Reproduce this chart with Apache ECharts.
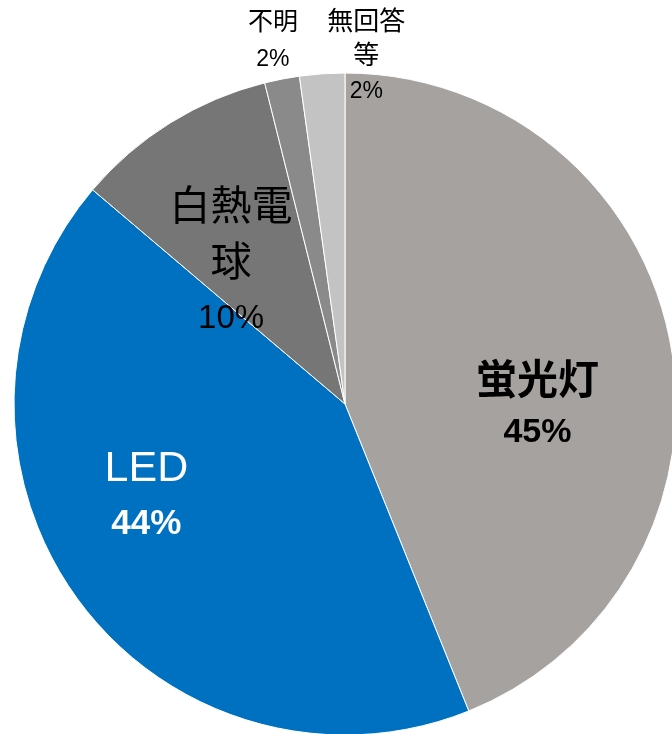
<!DOCTYPE html>
<html><head><meta charset="utf-8">
<script src="https://cdn.jsdelivr.net/npm/echarts@6/dist/echarts.min.js"></script>
<style>html,body{margin:0;padding:0;background:#fff}#c{width:672px;height:734px}</style>
</head><body><div id="c"></div>
<script>
// Data
const categories = ['蛍光灯', 'LED', '白熱電球', '不明', '無回答等'];
const shares = [43.9, 42.3, 9.9, 1.7, 2.2];
const pctLabels = ['45%', '44%', '10%', '2%', '2%'];
const nameLines = ['蛍光灯', 'LED', '白熱電\n球', '不明', '無回答\n等'];

// Styles
const colors = ['#a6a2a0', '#0070c0', '#767676', '#8a8a8a', '#c3c3c3'];
const numFont = "'Liberation Sans Narrow','Arial Narrow','Liberation Sans',sans-serif";
const cjkFont = "'Liberation Sans','Noto Sans CJK JP',sans-serif";
const labelOffsets = [[27, 36], [-62, -6], [-25, 2], [-40, -197], [33, -178]];

const labelStyles = [
  {name: {fontSize: 41, fontWeight: 'bold', color: '#000', lineHeight: 50}, pct: {fontSize: 34, fontWeight: 'bold', color: '#000', lineHeight: 50}},
  {name: {fontSize: 43, fontWeight: 'normal', color: '#fff', lineHeight: 55}, pct: {fontSize: 35, fontWeight: 'bold', color: '#fff', lineHeight: 55}},
  {name: {fontSize: 41, fontWeight: 'normal', color: '#000', lineHeight: 56}, pct: {fontSize: 33, fontWeight: 'normal', color: '#000', lineHeight: 52}},
  {name: {fontSize: 25, fontWeight: 'normal', color: '#000', lineHeight: 36}, pct: {fontSize: 23, fontWeight: 'normal', color: '#000', lineHeight: 36}},
  {name: {fontSize: 26, fontWeight: 'normal', color: '#000', lineHeight: 34}, pct: {fontSize: 23, fontWeight: 'normal', color: '#000', lineHeight: 36}}
];

const data = categories.map((c, i) => ({
  name: c,
  value: shares[i],
  itemStyle: {color: colors[i]},
  label: {
    rich: {
      n: Object.assign({fontFamily: cjkFont, align: 'center'}, labelStyles[i].name),
      p: Object.assign({fontFamily: numFont, align: 'center'}, labelStyles[i].pct)
    }
  }
}));

const chart = echarts.init(document.getElementById('c'));
chart.setOption({
  animation: false,
  series: [{
    type: 'pie',
    center: [345, 404],
    radius: 331,
    startAngle: 90,
    clockwise: true,
    avoidLabelOverlap: false,
    itemStyle: {borderColor: '#fff', borderWidth: 1},
    label: {
      show: true,
      position: 'inside',
      formatter: (p) => nameLines[p.dataIndex].split('\n').map(s => '{n|' + s + '}').join('\n') + '\n{p|' + pctLabels[p.dataIndex] + '}'
    },
    labelLine: {show: false},
    labelLayout: (p) => ({dx: labelOffsets[p.dataIndex][0], dy: labelOffsets[p.dataIndex][1]}),
    emphasis: {disabled: true},
    data: data
  }]
});
</script>
</body></html>
